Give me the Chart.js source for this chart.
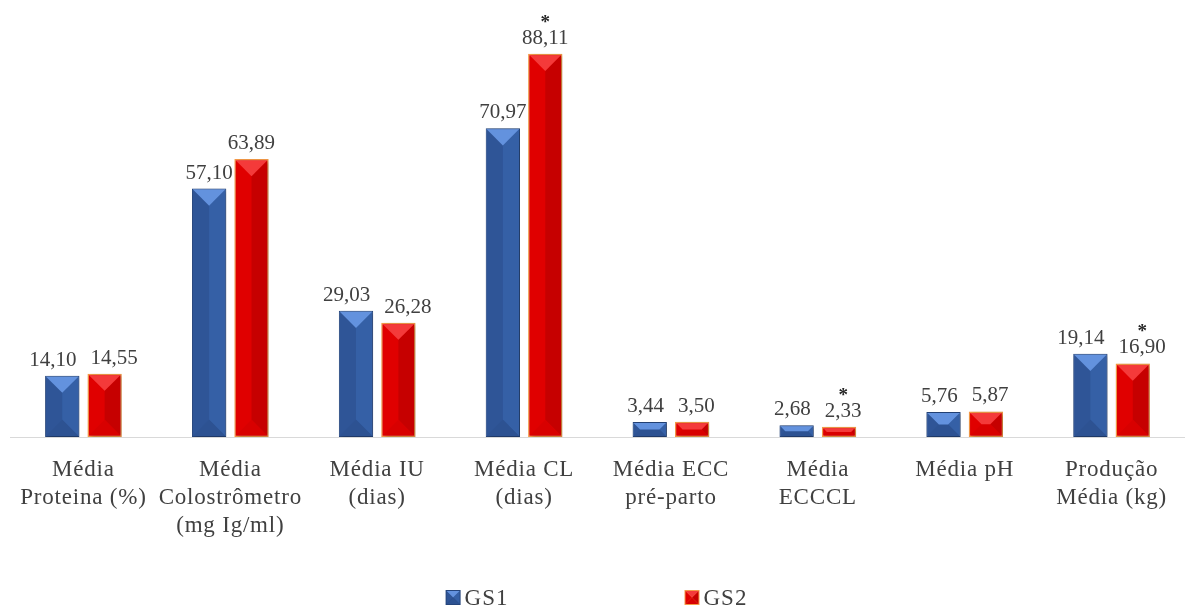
<!DOCTYPE html>
<html><head><meta charset="utf-8">
<script src="https://cdn.jsdelivr.net/npm/chart.js@4.4.1/dist/chart.umd.min.js"></script>
<style>html,body{margin:0;padding:0;background:#fff;}#wrap{width:1185px;height:610px;position:relative;}</style>
</head><body><div id="wrap"><canvas id="c"></canvas></div>
<script>
const categories = [
  ['Média', 'Proteina (%)'],
  ['Média', 'Colostrômetro', '(mg Ig/ml)'],
  ['Média IU', '(dias)'],
  ['Média CL', '(dias)'],
  ['Média ECC', 'pré-parto'],
  ['Média', 'ECCCL'],
  ['Média pH'],
  ['Produção', 'Média (kg)']
];
const seriesNames = ['GS1', 'GS2'];
const gs1Values = [14.10, 57.10, 29.03, 70.97, 3.44, 2.68, 5.76, 19.14];
const gs2Values = [14.55, 63.89, 26.28, 88.11, 3.50, 2.33, 5.87, 16.90];
const gs1Marks = ['', '', '', '', '', '', '', ''];
const gs2Marks = ['', '', '', '*', '', '*', '', '*'];
const yMin = 0;
const yMax = 100;

const palettes = [
  {base: '#2F5597', right: '#3560A6', top: '#6392DE', bottom: '#2D5292', border: '#25457C', bw: 1},
  {base: '#E00000', right: '#C60000', top: '#F43A3A', bottom: '#D80000', border: '#F59A48', bw: 1.5}
];
const marks = [gs1Marks, gs2Marks];
const fmt = v => v.toFixed(2).replace('.', ',');
const TXT = '#404040';
const SERIF = '"Liberation Serif", "Times New Roman", serif';

function bevel(ctx, L, T, R, B, pal) {
  const w = R - L, h = B - T;
  if (w <= 0 || h <= 0) return;
  const d = Math.min(w / 2, h / 2);
  const poly = (pts, col) => {
    ctx.beginPath();
    ctx.moveTo(pts[0][0], pts[0][1]);
    for (let k = 1; k < pts.length; k++) ctx.lineTo(pts[k][0], pts[k][1]);
    ctx.closePath();
    ctx.fillStyle = col;
    ctx.fill();
  };
  poly([[L, T], [L, B], [L + d, B - d], [L + d, T + d]], pal.base);
  poly([[R, T], [R, B], [R - d, B - d], [R - d, T + d]], pal.right);
  if (R - d > L + d) poly([[L + d, T + d], [R - d, T + d], [R - d, B - d], [L + d, B - d]], pal.base);
  poly([[L, B], [R, B], [R - d, B - d], [L + d, B - d]], pal.bottom);
  poly([[L, T], [R, T], [R - d, T + d], [L + d, T + d]], pal.top);
}

const stylePlugin = {
  id: 'style',
  beforeDraw(chart) {
    chart.ctx.letterSpacing = '0.8px';
  },
  beforeDatasetsDraw(chart) {
    const ctx = chart.ctx;
    ctx.save();
    ctx.shadowColor = 'rgba(0,0,0,0.28)';
    ctx.shadowBlur = 4;
    ctx.shadowOffsetX = 2;
    ctx.shadowOffsetY = 1;
  },
  afterDatasetsDraw(chart) {
    const ctx = chart.ctx;
    ctx.restore();
    const labels = [];
    chart.data.datasets.forEach((ds, di) => {
      const meta = chart.getDatasetMeta(di);
      const pal = palettes[di];
      meta.data.forEach((el, i) => {
        const p = el.getProps(['x', 'y', 'base', 'width'], true);
        const bw = pal.bw;
        const L = p.x - p.width / 2 + bw, R = p.x + p.width / 2 - bw;
        const T = Math.min(p.y, p.base) + bw, B = Math.max(p.y, p.base) - bw;
        ctx.save();
        bevel(ctx, L, T, R, B, pal);
        ctx.restore();
        ctx.save();
        ctx.letterSpacing = '0px';
        ctx.font = '21px ' + SERIF;
        const txt = fmt(ds.data[i]);
        const w = ctx.measureText(txt).width;
        ctx.restore();
        labels[i] = labels[i] || [];
        labels[i][di] = {x: p.x, y: Math.min(p.y, p.base) - 10, txt, w, mark: marks[di][i]};
      });
    });
    // keep neighbouring labels of a group apart
    labels.forEach(g => {
      if (g.length < 2) return;
      const a = g[0], b = g[1];
      if (Math.abs(a.y - b.y) < 18) {
        const gap = (b.x - b.w / 2) - (a.x + a.w / 2);
        const need = 14;
        if (gap < need) {
          const s = (need - gap) / 2;
          a.x -= s; b.x += s;
        }
      }
    });
    labels.forEach(g => g.forEach(l => {
      ctx.save();
      ctx.letterSpacing = '0px';
      ctx.fillStyle = TXT;
      ctx.textAlign = 'center';
      ctx.textBaseline = 'alphabetic';
      ctx.font = '21px ' + SERIF;
      ctx.fillText(l.txt, l.x, l.y);
      if (l.mark) {
        ctx.font = 'bold 19px ' + SERIF;
        ctx.fillStyle = '#262626';
        ctx.fillText(l.mark, l.x, l.y - 16);
      }
      ctx.restore();
    }));
  },
  afterDraw(chart) {
    const ctx = chart.ctx;
    const area = chart.chartArea;
    ctx.save();
    ctx.letterSpacing = '1px';
    ctx.font = '23px ' + SERIF;
    const box = 15, gapTxt = 4, itemGap = 176;
    const widths = chart.data.datasets.map(ds => ctx.measureText(ds.label).width);
    let total = 0;
    widths.forEach((w, k) => { total += box + gapTxt + w + (k < widths.length - 1 ? itemGap : 0); });
    let x = (area.left + area.right) / 2 - total / 2 - 1;
    const yb = 605;
    chart.data.datasets.forEach((ds, k) => {
      const pal = palettes[k];
      ctx.fillStyle = pal.border;
      ctx.fillRect(x, yb - box, box, box);
      bevel(ctx, x + 1, yb - box + 1, x + box - 1, yb - 1, pal);
      ctx.fillStyle = TXT;
      ctx.textAlign = 'left';
      ctx.textBaseline = 'alphabetic';
      ctx.fillText(ds.label, x + box + gapTxt, yb);
      x += box + gapTxt + widths[k] + itemGap;
    });
    ctx.restore();
  }
};

new Chart(document.getElementById('c'), {
  type: 'bar',
  data: {
    labels: categories,
    datasets: [
      {label: seriesNames[0], data: gs1Values, backgroundColor: palettes[0].base, borderColor: palettes[0].border, borderWidth: palettes[0].bw, borderSkipped: false},
      {label: seriesNames[1], data: gs2Values, backgroundColor: palettes[1].base, borderColor: palettes[1].border, borderWidth: palettes[1].bw, borderSkipped: false}
    ]
  },
  options: {
    responsive: true,
    maintainAspectRatio: false,
    animation: false,
    events: [],
    categoryPercentage: 0.577,
    barPercentage: 0.81,
    layout: {padding: {left: 10, right: 0, top: 2, bottom: 0}},
    plugins: {legend: {display: false}, tooltip: {enabled: false}},
    scales: {
      x: {
        grid: {display: false, drawTicks: false},
        border: {display: true, color: '#D9D9D9', width: 1},
        ticks: {
          color: TXT,
          font: {family: SERIF, size: 23, lineHeight: '28px'},
          padding: 19,
          maxRotation: 0,
          minRotation: 0,
          autoSkip: false
        },
        afterFit(scale) { scale.height = 173; }
      },
      y: {
        display: false,
        min: yMin,
        max: yMax
      }
    }
  },
  plugins: [stylePlugin]
});
</script>
</body></html>
